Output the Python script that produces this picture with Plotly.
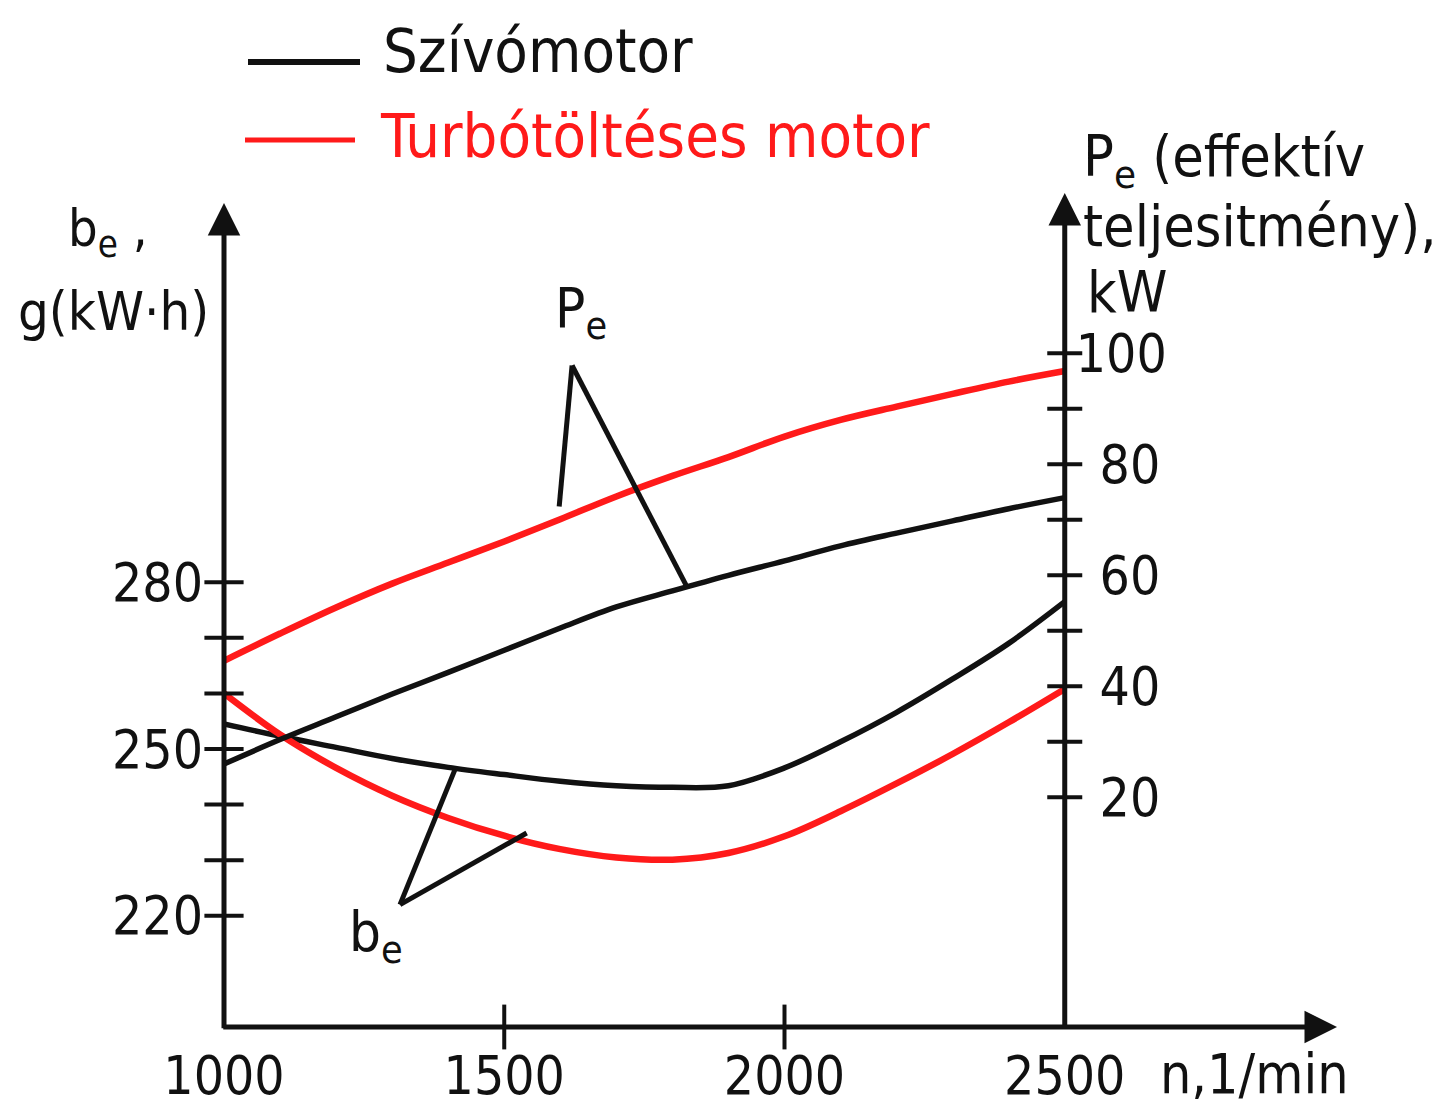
import plotly.graph_objects as go

# ---------------- data ----------------
rpm = [1000, 1100, 1200, 1300, 1400, 1500, 1600, 1700,
       1800, 1900, 2000, 2100, 2200, 2300, 2400, 2500]

# effective power Pe, kW (right axis)
pe_szivo = [26.0, 30.4, 34.5, 38.6, 42.5, 46.5, 50.5, 54.3,
            57.2, 60.0, 62.6, 65.3, 67.6, 69.8, 72.0, 74.0]
pe_turbo = [44.6, 49.5, 54.2, 58.5, 62.3, 66.1, 70.1, 74.2,
            77.9, 81.3, 85.0, 88.0, 90.4, 92.7, 94.9, 96.8]

# specific fuel consumption be, g/(kW·h) (left axis)
be_szivo = [254.5, 252.3, 250.3, 248.3, 246.7, 245.4, 244.2, 243.4,
            243.1, 243.4, 246.6, 251.3, 256.6, 262.6, 269.0, 276.5]
be_turbo = [260.0, 252.6, 246.6, 241.6, 237.6, 234.4, 232.0, 230.5,
            230.1, 231.3, 234.3, 238.8, 243.8, 249.1, 254.8, 260.8]

x_labels = [1000, 1500, 2000, 2500]
x_marks = [1500, 2000]
be_major = [220, 250, 280]
be_all = [220, 230, 240, 250, 260, 270, 280]
pe_major = [20, 40, 60, 80, 100]
pe_major_text = ["\u200220", "\u200240", "\u200260", "\u200280", "100"]
pe_all = [20, 30, 40, 50, 60, 70, 80, 90, 100]

names = ["Szívómotor", "Turbótöltéses motor"]

# ---------------- style / layout ----------------
BLACK = "#111111"
RED = "#ff1a1a"
FONT = "DejaVu Sans Condensed, DejaVu Sans"

W_FIG, H_FIG = 1451, 1108
M_L, M_R, M_T, M_B = 224, 106, 185, 81
PW = W_FIG - M_L - M_R
PH = H_FIG - M_T - M_B

x_range = [1000, 3000]
be_range = [200, 200 + PH / 5.56]
pe_range = [-21.39, -21.39 + PH / 5.55]
X_LEFT, X_RIGHT = 1000, 2500          # positions of the two vertical axes (rpm)
right_pos = (X_RIGHT - x_range[0]) / (x_range[1] - x_range[0])
XPX = PW / (x_range[1] - x_range[0])


def PX(px):
    return (px - M_L) / PW


def PY(py):
    return (H_FIG - M_B - py) / PH


fig = go.Figure()
fig.add_trace(go.Scatter(x=rpm, y=be_szivo, mode="lines", name=names[0],
                         line=dict(color=BLACK, width=5.5, shape="spline"), yaxis="y"))
fig.add_trace(go.Scatter(x=rpm, y=be_turbo, mode="lines", name=names[1],
                         line=dict(color=RED, width=6.5, shape="spline"), yaxis="y"))
fig.add_trace(go.Scatter(x=rpm, y=pe_szivo, mode="lines", name=names[0],
                         line=dict(color=BLACK, width=5.5, shape="spline"), yaxis="y2"))
fig.add_trace(go.Scatter(x=rpm, y=pe_turbo, mode="lines", name=names[1],
                         line=dict(color=RED, width=6.5, shape="spline"), yaxis="y2"))

# cross-shaped tick marks on the three axes
TW = 4
tick_marker = dict(color=BLACK, line=dict(color=BLACK, width=TW))
fig.add_trace(go.Scatter(x=[X_LEFT] * len(be_all), y=be_all, mode="markers", yaxis="y",
                         cliponaxis=False, hoverinfo="skip", showlegend=False,
                         marker=dict(symbol="line-ew-open", size=28, **tick_marker)))
fig.add_trace(go.Scatter(x=[X_RIGHT] * len(pe_all), y=pe_all, mode="markers", yaxis="y2",
                         cliponaxis=False, hoverinfo="skip", showlegend=False,
                         marker=dict(symbol="line-ew-open", size=25, **tick_marker)))
fig.add_trace(go.Scatter(x=x_marks, y=[be_range[0]] * len(x_marks), mode="markers", yaxis="y",
                         cliponaxis=False, hoverinfo="skip", showlegend=False,
                         marker=dict(symbol="line-ns-open", size=32, **tick_marker)))

tickfont = dict(family=FONT, size=53, color=BLACK)
common = dict(showgrid=False, zeroline=False, showline=False, automargin=False, ticks="")

fig.update_layout(
    width=W_FIG, height=H_FIG,
    margin=dict(l=M_L, r=M_R, t=M_T, b=M_B, autoexpand=False),
    paper_bgcolor="white", plot_bgcolor="white",
    showlegend=False,
    font=dict(family=FONT, color=BLACK),
    xaxis=dict(range=x_range, domain=[0, 1], anchor="y", tickvals=x_labels,
               tickfont=tickfont, ticklabelstandoff=13, **common),
    yaxis=dict(range=be_range, anchor="x", tickvals=be_major,
               tickfont=tickfont, ticklabelstandoff=20, **common),
    yaxis2=dict(range=pe_range, overlaying="y", anchor="free", position=right_pos,
                side="right", tickvals=pe_major, ticktext=pe_major_text,
                tickfont=tickfont, ticklabelstandoff=10, **common),
)

ann = []
# axis lines with arrow heads
arrow = dict(text="", showarrow=True, arrowhead=2, arrowsize=1.3, arrowwidth=5,
             arrowcolor=BLACK, standoff=0, startstandoff=0)
ann.append(dict(x=X_LEFT, y=be_range[0] + (H_FIG - M_B - 203) / 5.56, ax=X_LEFT,
                ay=be_range[0] - 0.5,
                xref="x", yref="y", axref="x", ayref="y", **arrow))
ann.append(dict(x=X_RIGHT, y=pe_range[1] - 8 / 5.55, ax=X_RIGHT, ay=pe_range[0] - 0.5,
                xref="x", yref="y2", axref="x", ayref="y2", **arrow))
ann.append(dict(x=x_range[1] - 8 / XPX, y=be_range[0], ax=x_range[0] - 4, ay=be_range[0],
                xref="x", yref="y", axref="x", ayref="y", **arrow))


def text(t, px, py, size, color=BLACK, xanchor="left"):
    ann.append(dict(text=t, x=PX(px), y=PY(py), xref="paper", yref="paper",
                    xanchor=xanchor, yanchor="middle", showarrow=False,
                    font=dict(family=FONT, size=size, color=color)))


# legend
text(names[0], 381, 50, 61)
text(names[1], 378, 135, 61, RED)
# left axis title
text("b<sub>e</sub> ,", 66, 232, 52)
text("g(kW·h)", 16, 312, 54)
# right axis title
text("P<sub>e</sub> (effektív", 1081, 160, 57)
text("teljesitmény),", 1081, 226, 57)
text("kW", 1085, 292, 57)
# x axis title
text("n,1/min", 1158, 1074, 55)
# curve labels
text("P<sub>e</sub>", 553, 312, 56)
text("b<sub>e</sub>", 347, 935, 56)

fig.update_layout(annotations=ann)

shapes = []
# legend lines
shapes.append(dict(type="line", xref="paper", yref="paper", x0=PX(248), x1=PX(360),
                   y0=PY(62), y1=PY(62), line=dict(color=BLACK, width=6)))
shapes.append(dict(type="line", xref="paper", yref="paper", x0=PX(245), x1=PX(355),
                   y0=PY(140), y1=PY(140), line=dict(color=RED, width=5)))
# leader lines for the "Pe" label (x in rpm, y in kW)
pe_apex = (1621, 97.8)
for end in [(1598, 72.4), (1826, 57.9)]:
    shapes.append(dict(type="line", xref="x", yref="y2", x0=pe_apex[0], y0=pe_apex[1],
                       x1=end[0], y1=end[1], line=dict(color=BLACK, width=5)))
# leader lines for the "be" label (x in rpm, y in g/kWh)
be_apex = (1314, 222.0)
for end in [(1412, 246.3), (1540, 234.9)]:
    shapes.append(dict(type="line", xref="x", yref="y", x0=be_apex[0], y0=be_apex[1],
                       x1=end[0], y1=end[1], line=dict(color=BLACK, width=5)))
fig.update_layout(shapes=shapes)

fig.write_html("out.html")
